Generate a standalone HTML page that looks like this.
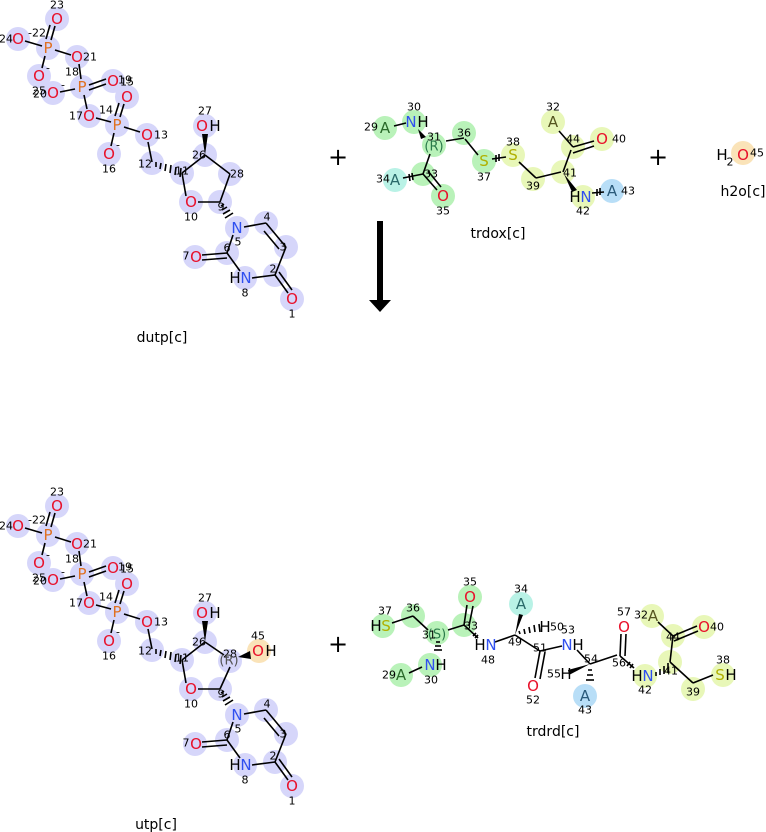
<!DOCTYPE html>
<html><head><meta charset="utf-8"><style>
html,body{margin:0;padding:0;background:#fff;width:766px;height:832px;overflow:hidden}
svg{display:block}
text{font-family:"DejaVu Sans","Liberation Sans",sans-serif}
.a{font-size:15px;text-anchor:middle;dominant-baseline:central}
.n{font-size:11px;text-anchor:middle;dominant-baseline:central;fill:#000}
.o{fill:#e8102a}.p{fill:#e07020}.b{fill:#3050f0}.s{fill:#b0b000}.g{fill:#555}
.l{font-size:14px;text-anchor:middle;dominant-baseline:central}
line{stroke:#000;stroke-width:1.6}
.cl circle{fill:#d6d6fa}
</style></head><body>
<svg width="766" height="832" viewBox="0 0 766 832" xmlns="http://www.w3.org/2000/svg">
<defs>
<g id="hp"></g>
</defs>

<!-- dUTP -->
<g id="dutp">
<g class="cl">
<circle cx="57" cy="19" r="12"/><circle cx="18" cy="39" r="12"/><circle cx="48" cy="48" r="12"/>
<circle cx="77" cy="57" r="12"/><circle cx="39" cy="76" r="12"/><circle cx="82" cy="87" r="12"/>
<circle cx="113" cy="81" r="12"/><circle cx="127" cy="97" r="12"/><circle cx="53" cy="93" r="12"/>
<circle cx="89" cy="116" r="12"/><circle cx="117" cy="125" r="12"/><circle cx="147" cy="135" r="12"/>
<circle cx="109" cy="154" r="12"/><circle cx="152" cy="163" r="12"/><circle cx="182" cy="173" r="12"/>
<circle cx="205" cy="155" r="12"/><circle cx="205" cy="126" r="12"/><circle cx="230" cy="174" r="12"/>
<circle cx="191" cy="202" r="12"/><circle cx="220" cy="202" r="12"/><circle cx="237" cy="228" r="12"/>
<circle cx="266" cy="223" r="12"/><circle cx="286" cy="247" r="12"/><circle cx="275" cy="275" r="12"/>
<circle cx="292" cy="299" r="12"/><circle cx="245" cy="278" r="12"/><circle cx="227" cy="253" r="12"/>
<circle cx="195" cy="257" r="12"/>
</g>
<line x1="25" y1="41" x2="42" y2="46"/><line x1="51" y1="40" x2="55" y2="26"/><line x1="46" y1="39" x2="50" y2="25"/>
<line x1="55" y1="50" x2="71" y2="55"/><line x1="45" y1="56" x2="42" y2="68"/>
<line x1="79" y1="64" x2="81" y2="79"/><line x1="89" y1="85" x2="106" y2="79"/><line x1="89" y1="90" x2="106" y2="84"/>
<line x1="75" y1="89" x2="60" y2="92"/><line x1="84" y1="95" x2="87" y2="109"/>
<line x1="96" y1="118" x2="111" y2="122"/><line x1="120" y1="117" x2="124" y2="104"/><line x1="115" y1="116" x2="119" y2="103"/>
<line x1="124" y1="127" x2="140" y2="132"/><line x1="114" y1="133" x2="111" y2="146"/>
<line x1="148" y1="142" x2="152" y2="162"/>
<polygon points="152,163 182,171 182,175" fill="none"/>
<g stroke="#000" stroke-width="1.2">
<line x1="156" y1="162" x2="156" y2="167"/><line x1="161" y1="163" x2="160" y2="169"/><line x1="166" y1="164" x2="165" y2="171"/><line x1="171" y1="165" x2="170" y2="173"/><line x1="176" y1="167" x2="175" y2="175"/><line x1="181" y1="168" x2="180" y2="177"/>
</g>
<line x1="182" y1="173" x2="205" y2="155"/><polygon points="205,155 202,134 208,134" fill="#000"/>
<line x1="205" y1="155" x2="230" y2="174"/><line x1="230" y1="174" x2="220" y2="202"/>
<line x1="220" y1="202" x2="198" y2="202"/><line x1="186" y1="196" x2="182" y2="173"/>
<g stroke="#000" stroke-width="1.2">
<line x1="221" y1="206" x2="224" y2="204"/><line x1="222" y1="210" x2="227" y2="207"/><line x1="223" y1="214" x2="230" y2="210"/><line x1="225" y1="218" x2="233" y2="213"/>
</g>
<line x1="244" y1="227" x2="266" y2="223"/><line x1="266" y1="223" x2="286" y2="247"/><line x1="264" y1="231" x2="279" y2="249"/>
<line x1="286" y1="247" x2="275" y2="275"/><line x1="275" y1="275" x2="288" y2="293"/><line x1="279" y1="272" x2="292" y2="290"/>
<line x1="275" y1="275" x2="252" y2="278"/><line x1="240" y1="271" x2="227" y2="253"/>
<line x1="227" y1="253" x2="202" y2="255"/><line x1="227" y1="258" x2="202" y2="260"/><line x1="227" y1="253" x2="233" y2="235"/>
<text class="a o" x="57" y="19">O</text><text class="n" x="57" y="5">23</text>
<text class="a o" x="18" y="39">O</text><text class="n" x="6" y="39">24</text>
<text class="a p" x="48" y="48">P</text><text class="n" x="37" y="33">-22</text>
<text class="a o" x="77" y="57">O</text><text class="n" x="90" y="57">21</text>
<text class="a o" x="39" y="76">O</text><text class="n" x="48" y="68">-</text>
<text class="a p" x="82" y="87">P</text><text class="n" x="72" y="72">18</text>
<text class="a o" x="113" y="81">O</text><text class="n" x="125" y="80">19</text><text class="n" x="127" y="82">15</text>
<text class="a o" x="127" y="97">O</text>
<text class="a o" x="53" y="93">O</text><text class="n" x="39" y="91">25</text><text class="n" x="40" y="94">20</text><text class="n" x="63" y="85">-</text>
<text class="a o" x="89" y="116">O</text><text class="n" x="76" y="116">17</text>
<text class="a p" x="117" y="125">P</text><text class="n" x="106" y="110">14</text>
<text class="a o" x="147" y="135">O</text><text class="n" x="161" y="135">13</text>
<text class="a o" x="109" y="154">O</text><text class="n" x="109" y="169">16</text><text class="n" x="118" y="145">-</text>
<text class="n" x="145" y="164">12</text><text class="n" x="182" y="171">11</text><text class="n" x="199" y="155">26</text>
<text class="a o" x="202" y="126">O</text><text class="a" x="215" y="126">H</text><text class="n" x="205" y="111">27</text>
<text class="n" x="237" y="174">28</text>
<text class="a o" x="191" y="202">O</text><text class="n" x="191" y="217">10</text>
<text class="n" x="221" y="207">9</text>
<text class="a b" x="237" y="228">N</text><text class="n" x="238" y="242">5</text>
<text class="n" x="267" y="217">4</text><text class="n" x="283" y="247">3</text><text class="n" x="273" y="269">2</text>
<text class="a o" x="292" y="299">O</text><text class="n" x="292" y="314">1</text>
<text class="a" x="235" y="278">H</text><text class="a b" x="246" y="278">N</text><text class="n" x="245" y="293">8</text>
<text class="n" x="227" y="248">6</text>
<text class="a o" x="196" y="257">O</text><text class="n" x="186" y="256">7</text>
</g>
<text class="l" x="162" y="338">dutp[c]</text>

<!-- UTP -->
<g transform="translate(0,487)">
<g class="cl">
<circle cx="57" cy="19" r="12"/><circle cx="18" cy="39" r="12"/><circle cx="48" cy="48" r="12"/>
<circle cx="77" cy="57" r="12"/><circle cx="39" cy="76" r="12"/><circle cx="82" cy="87" r="12"/>
<circle cx="113" cy="81" r="12"/><circle cx="127" cy="97" r="12"/><circle cx="53" cy="93" r="12"/>
<circle cx="89" cy="116" r="12"/><circle cx="117" cy="125" r="12"/><circle cx="147" cy="135" r="12"/>
<circle cx="109" cy="154" r="12"/><circle cx="152" cy="163" r="12"/><circle cx="182" cy="173" r="12"/>
<circle cx="205" cy="155" r="12"/><circle cx="205" cy="126" r="12"/><circle cx="230" cy="174" r="12"/>
<circle cx="191" cy="202" r="12"/><circle cx="220" cy="202" r="12"/><circle cx="237" cy="228" r="12"/>
<circle cx="266" cy="223" r="12"/><circle cx="286" cy="247" r="12"/><circle cx="275" cy="275" r="12"/>
<circle cx="292" cy="299" r="12"/><circle cx="245" cy="278" r="12"/><circle cx="227" cy="253" r="12"/>
<circle cx="195" cy="257" r="12"/>
</g>
<circle cx="259" cy="164" r="12" fill="#fae3b8"/>
<line x1="25" y1="41" x2="42" y2="46"/><line x1="51" y1="40" x2="55" y2="26"/><line x1="46" y1="39" x2="50" y2="25"/>
<line x1="55" y1="50" x2="71" y2="55"/><line x1="45" y1="56" x2="42" y2="68"/>
<line x1="79" y1="64" x2="81" y2="79"/><line x1="89" y1="85" x2="106" y2="79"/><line x1="89" y1="90" x2="106" y2="84"/>
<line x1="75" y1="89" x2="60" y2="92"/><line x1="84" y1="95" x2="87" y2="109"/>
<line x1="96" y1="118" x2="111" y2="122"/><line x1="120" y1="117" x2="124" y2="104"/><line x1="115" y1="116" x2="119" y2="103"/>
<line x1="124" y1="127" x2="140" y2="132"/><line x1="114" y1="133" x2="111" y2="146"/>
<line x1="148" y1="142" x2="152" y2="162"/>
<g stroke="#000" stroke-width="1.2">
<line x1="156" y1="162" x2="156" y2="167"/><line x1="161" y1="163" x2="160" y2="169"/><line x1="166" y1="164" x2="165" y2="171"/><line x1="171" y1="165" x2="170" y2="173"/><line x1="176" y1="167" x2="175" y2="175"/><line x1="181" y1="168" x2="180" y2="177"/>
</g>
<line x1="182" y1="173" x2="205" y2="155"/><polygon points="205,155 202,134 208,134" fill="#000"/>
<line x1="205" y1="155" x2="224" y2="168"/><line x1="230" y1="180" x2="220" y2="202"/>
<polygon points="238,170 250,164 251,172" fill="#000"/>
<line x1="220" y1="202" x2="198" y2="202"/><line x1="186" y1="196" x2="182" y2="173"/>
<g stroke="#000" stroke-width="1.2">
<line x1="221" y1="206" x2="224" y2="204"/><line x1="222" y1="210" x2="227" y2="207"/><line x1="223" y1="214" x2="230" y2="210"/><line x1="225" y1="218" x2="233" y2="213"/>
</g>
<line x1="244" y1="227" x2="266" y2="223"/><line x1="266" y1="223" x2="286" y2="247"/><line x1="264" y1="231" x2="279" y2="249"/>
<line x1="286" y1="247" x2="275" y2="275"/><line x1="275" y1="275" x2="288" y2="293"/><line x1="279" y1="272" x2="292" y2="290"/>
<line x1="275" y1="275" x2="252" y2="278"/><line x1="240" y1="271" x2="227" y2="253"/>
<line x1="227" y1="253" x2="202" y2="255"/><line x1="227" y1="258" x2="202" y2="260"/><line x1="227" y1="253" x2="233" y2="235"/>
<text class="a o" x="57" y="19">O</text><text class="n" x="57" y="5">23</text>
<text class="a o" x="18" y="39">O</text><text class="n" x="6" y="39">24</text>
<text class="a p" x="48" y="48">P</text><text class="n" x="37" y="33">-22</text>
<text class="a o" x="77" y="57">O</text><text class="n" x="90" y="57">21</text>
<text class="a o" x="39" y="76">O</text><text class="n" x="48" y="68">-</text>
<text class="a p" x="82" y="87">P</text><text class="n" x="72" y="72">18</text>
<text class="a o" x="113" y="81">O</text><text class="n" x="125" y="80">19</text><text class="n" x="127" y="82">15</text>
<text class="a o" x="127" y="97">O</text>
<text class="a o" x="53" y="93">O</text><text class="n" x="39" y="91">25</text><text class="n" x="40" y="94">20</text><text class="n" x="63" y="85">-</text>
<text class="a o" x="89" y="116">O</text><text class="n" x="76" y="116">17</text>
<text class="a p" x="117" y="125">P</text><text class="n" x="106" y="110">14</text>
<text class="a o" x="147" y="135">O</text><text class="n" x="161" y="135">13</text>
<text class="a o" x="109" y="154">O</text><text class="n" x="109" y="169">16</text><text class="n" x="118" y="145">-</text>
<text class="n" x="145" y="164">12</text><text class="n" x="182" y="171">11</text><text class="n" x="199" y="155">26</text>
<text class="a o" x="202" y="126">O</text><text class="a" x="215" y="126">H</text><text class="n" x="205" y="111">27</text>
<text class="n" x="230" y="167">28</text><text class="a g" x="229" y="174" style="font-size:13px">(R)</text>
<text class="a o" x="258" y="164">O</text><text class="a" x="271" y="164">H</text><text class="n" x="258" y="149">45</text>
<text class="a o" x="191" y="202">O</text><text class="n" x="191" y="217">10</text>
<text class="n" x="221" y="207">9</text>
<text class="a b" x="237" y="228">N</text><text class="n" x="238" y="242">5</text>
<text class="n" x="267" y="217">4</text><text class="n" x="283" y="247">3</text><text class="n" x="273" y="269">2</text>
<text class="a o" x="292" y="299">O</text><text class="n" x="292" y="314">1</text>
<text class="a" x="235" y="278">H</text><text class="a b" x="246" y="278">N</text><text class="n" x="245" y="293">8</text>
<text class="n" x="227" y="248">6</text>
<text class="a o" x="196" y="257">O</text><text class="n" x="186" y="256">7</text>
</g>
<text class="l" x="156" y="825">utp[c]</text>

<!-- plus signs and arrow -->
<text x="338" y="157" style="font-size:24px;text-anchor:middle;dominant-baseline:central">+</text>
<text x="658" y="157" style="font-size:24px;text-anchor:middle;dominant-baseline:central">+</text>
<text x="338" y="644" style="font-size:24px;text-anchor:middle;dominant-baseline:central">+</text>
<rect x="377" y="221" width="6" height="80" fill="#000"/>
<polygon points="369,300 391,300 380,312" fill="#000"/>

<!-- trdox -->
<g>
<circle cx="385" cy="128" r="12" fill="#b9f2b9"/><circle cx="414" cy="122" r="12" fill="#b9f2b9"/>
<circle cx="434" cy="145" r="12" fill="#b9f2b9"/><circle cx="464" cy="133" r="12" fill="#b9f2b9"/>
<circle cx="484" cy="161" r="12" fill="#b9f2b9"/><circle cx="423" cy="174" r="12" fill="#b9f2b9"/>
<circle cx="443" cy="196" r="12" fill="#b9f2b9"/><circle cx="395" cy="180" r="12" fill="#b9f2e6"/>
<circle cx="513" cy="155" r="12" fill="#e8f7b8"/><circle cx="533" cy="179" r="12" fill="#e8f7b8"/>
<circle cx="563" cy="172" r="12" fill="#e8f7b8"/><circle cx="573" cy="147" r="12" fill="#e8f7b8"/>
<circle cx="602" cy="139" r="12" fill="#e8f7b8"/><circle cx="553" cy="122" r="12" fill="#e8f7b8"/>
<circle cx="583" cy="197" r="12" fill="#e8f7b8"/><circle cx="612" cy="191" r="12" fill="#b8def7"/>
<line x1="394" y1="126" x2="406" y2="123"/><polygon points="418,129 426,137 421,139" fill="#000"/>
<line x1="446" y1="141" x2="464" y2="138"/><line x1="465" y1="139" x2="478" y2="155"/>
<line x1="492" y1="159" x2="506" y2="157"/><line x1="496" y1="155" x2="496" y2="162" stroke-width="1"/><line x1="499" y1="154" x2="499" y2="161" stroke-width="1"/>
<line x1="519" y1="162" x2="536" y2="178"/><line x1="536" y1="178" x2="561" y2="172"/>
<line x1="563" y1="172" x2="571" y2="150"/><line x1="573" y1="147" x2="594" y2="141"/><line x1="573" y1="153" x2="594" y2="146"/>
<line x1="573" y1="147" x2="559" y2="131"/><polygon points="564,174 577,190 572,192" fill="#000"/>
<line x1="592" y1="193" x2="604" y2="192"/><line x1="597" y1="189" x2="597" y2="196" stroke-width="1"/><line x1="600" y1="188" x2="600" y2="195" stroke-width="1"/>
<line x1="430" y1="154" x2="423" y2="174"/><line x1="423" y1="174" x2="437" y2="190"/><line x1="428" y1="171" x2="441" y2="187"/>
<line x1="423" y1="174" x2="403" y2="178"/><line x1="409" y1="174" x2="410" y2="181" stroke-width="1"/><line x1="412" y1="173" x2="413" y2="180" stroke-width="1"/>
<text class="a" style="fill:#2a6a2a" x="385" y="128">A</text><text class="n" x="371" y="127">29</text>
<text class="a b" x="411" y="122">N</text><text class="a" x="423" y="122">H</text><text class="n" x="414" y="107">30</text>
<text class="a" style="fill:#2a7a4a;font-size:13px" x="434" y="147">(R)</text><text class="n" x="434" y="137">31</text>
<text class="n" x="464" y="133">36</text>
<text class="a s" x="484" y="161">S</text><text class="n" x="484" y="177">37</text>
<text class="a s" x="513" y="155">S</text><text class="n" x="513" y="142">38</text>
<text class="n" x="533" y="186">39</text><text class="n" x="570" y="173">41</text><text class="n" x="573" y="139">44</text>
<text class="a o" x="602" y="139">O</text><text class="n" x="619" y="139">40</text>
<text class="a" style="fill:#555520" x="553" y="122">A</text><text class="n" x="553" y="107">32</text>
<text class="a" x="575" y="197">H</text><text class="a b" x="586" y="197">N</text><text class="n" x="583" y="211">42</text>
<text class="a" style="fill:#2a5a7a" x="612" y="191">A</text><text class="n" x="628" y="191">43</text>
<text class="n" x="431" y="174">33</text>
<text class="a" style="fill:#2a6a6a" x="395" y="180">A</text><text class="n" x="383" y="179">34</text>
<text class="a o" x="443" y="196">O</text><text class="n" x="443" y="211">35</text>
</g>
<text class="l" x="498" y="234">trdox[c]</text>

<!-- h2o -->
<circle cx="743" cy="153" r="12" fill="#fae3b8"/>
<text class="a" x="722" y="155">H</text><text x="730" y="162" style="font-size:11px;text-anchor:middle;dominant-baseline:central">2</text>
<text class="a o" x="743" y="155">O</text><text class="n" x="757" y="153">45</text>
<text class="l" x="743" y="192">h2o[c]</text>

<!-- trdrd -->
<g>
<circle cx="383" cy="626" r="12" fill="#b9f2b9"/><circle cx="413" cy="616" r="12" fill="#b9f2b9"/>
<circle cx="437" cy="633" r="12" fill="#b9f2b9"/><circle cx="464" cy="625" r="12" fill="#b9f2b9"/>
<circle cx="470" cy="597" r="12" fill="#b9f2b9"/><circle cx="430" cy="665" r="12" fill="#b9f2b9"/>
<circle cx="401" cy="675" r="12" fill="#b9f2b9"/><circle cx="521" cy="604" r="12" fill="#b9f2e6"/>
<circle cx="585" cy="696" r="12" fill="#b8def7"/>
<circle cx="645" cy="676" r="12" fill="#e8f7b8"/><circle cx="670" cy="662" r="12" fill="#e8f7b8"/>
<circle cx="673" cy="636" r="12" fill="#e8f7b8"/><circle cx="704" cy="627" r="12" fill="#e8f7b8"/>
<circle cx="652" cy="616" r="12" fill="#e8f7b8"/><circle cx="693" cy="689" r="12" fill="#e8f7b8"/>
<circle cx="723" cy="675" r="12" fill="#e8f7b8"/>
<line x1="392" y1="623" x2="413" y2="616"/><line x1="413" y1="616" x2="428" y2="630"/>
<line x1="448" y1="630" x2="464" y2="625"/><line x1="464" y1="625" x2="467" y2="605"/><line x1="469" y1="626" x2="473" y2="606"/>
<line x1="464" y1="625" x2="478" y2="638"/>
<g stroke="#000" stroke-width="1"><line x1="473" y1="636" x2="476" y2="633"/><line x1="475" y1="638" x2="478" y2="635"/><line x1="436" y1="642" x2="440" y2="642"/><line x1="435" y1="646" x2="441" y2="646"/><line x1="434" y1="650" x2="442" y2="650"/></g>
<line x1="409" y1="673" x2="422" y2="667"/>
<line x1="495" y1="642" x2="515" y2="635"/><polygon points="515,635 519,614 523,615" fill="#000"/>
<g stroke="#000" stroke-width="1.2"><line x1="520" y1="634" x2="519" y2="631"/><line x1="525" y1="634" x2="524" y2="629"/><line x1="530" y1="633" x2="529" y2="627"/><line x1="535" y1="632" x2="534" y2="625"/><line x1="540" y1="632" x2="539" y2="624"/></g>
<line x1="515" y1="635" x2="540" y2="651"/><line x1="540" y1="651" x2="562" y2="646"/>
<line x1="540" y1="651" x2="535" y2="678"/><line x1="545" y1="652" x2="540" y2="679"/>
<line x1="577" y1="650" x2="590" y2="664"/><line x1="590" y1="664" x2="617" y2="655"/>
<polygon points="590,664 568,670 569,675" fill="#000"/>
<g stroke="#000" stroke-width="1.2"><line x1="588" y1="670" x2="592" y2="670"/><line x1="587" y1="675" x2="593" y2="675"/><line x1="586" y1="680" x2="594" y2="680"/></g>
<line x1="620" y1="656" x2="621" y2="634"/><line x1="625" y1="656" x2="626" y2="634"/>
<line x1="620" y1="656" x2="634" y2="668"/>
<g stroke="#000" stroke-width="1"><line x1="627" y1="666" x2="630" y2="662"/><line x1="630" y1="668" x2="633" y2="664"/></g>
<g stroke="#000" stroke-width="1.2"><line x1="656" y1="672" x2="656" y2="676"/><line x1="660" y1="669" x2="660" y2="675"/><line x1="664" y1="666" x2="664" y2="674"/><line x1="668" y1="663" x2="668" y2="673"/></g>
<line x1="670" y1="662" x2="673" y2="636"/><line x1="673" y1="636" x2="697" y2="626"/><line x1="674" y1="641" x2="698" y2="631"/>
<line x1="673" y1="636" x2="658" y2="622"/>
<line x1="670" y1="662" x2="693" y2="683"/><line x1="693" y1="683" x2="713" y2="675"/>
<text class="a" x="376" y="626">H</text><text class="a s" x="386" y="626">S</text><text class="n" x="385" y="611">37</text>
<text class="n" x="413" y="608">36</text>
<text class="a" style="fill:#2a7a4a;font-size:13px" x="437" y="635">(S)</text><text class="n" x="429" y="635">31</text>
<text class="n" x="471" y="626">33</text>
<text class="a o" x="470" y="597">O</text><text class="n" x="470" y="582">35</text>
<text class="a b" x="430" y="665">N</text><text class="a" x="441" y="665">H</text><text class="n" x="431" y="680">30</text>
<text class="a" style="fill:#2a6a2a" x="401" y="675">A</text><text class="n" x="389" y="675">29</text>
<text class="a" x="480" y="645">H</text><text class="a b" x="491" y="645">N</text><text class="n" x="488" y="660">48</text>
<text class="n" x="515" y="642">49</text>
<text class="a" style="fill:#2a6a6a" x="521" y="604">A</text><text class="n" x="521" y="589">34</text>
<text class="a" x="545" y="627">H</text><text class="n" x="557" y="627">50</text>
<text class="a b" x="567" y="645">N</text><text class="a" x="578" y="645">H</text><text class="n" x="568" y="630">53</text>
<text class="n" x="540" y="648">51</text>
<text class="a o" x="533" y="686">O</text><text class="n" x="533" y="700">52</text>
<text class="n" x="591" y="659">54</text>
<text class="n" x="554" y="674">55</text><text class="a" x="566" y="674">H</text>
<text class="a" style="fill:#2a5a7a" x="585" y="696">A</text><text class="n" x="585" y="710">43</text>
<text class="a o" x="624" y="627">O</text><text class="n" x="624" y="612">57</text>
<text class="n" x="619" y="663">56</text>
<text class="a" x="637" y="676">H</text><text class="a b" x="648" y="676">N</text><text class="n" x="645" y="690">42</text>
<text class="n" x="671" y="671">41</text><text class="n" x="673" y="637">44</text>
<text class="a o" x="704" y="627">O</text><text class="n" x="717" y="627">40</text>
<text class="a" style="fill:#555520" x="653" y="616">A</text><text class="n" x="641" y="615">32</text>
<text class="n" x="693" y="692">39</text>
<text class="a s" x="720" y="675">S</text><text class="a" x="731" y="675">H</text><text class="n" x="723" y="660">38</text>
</g>
<text class="l" x="553" y="732">trdrd[c]</text>
</svg>
</body></html>
